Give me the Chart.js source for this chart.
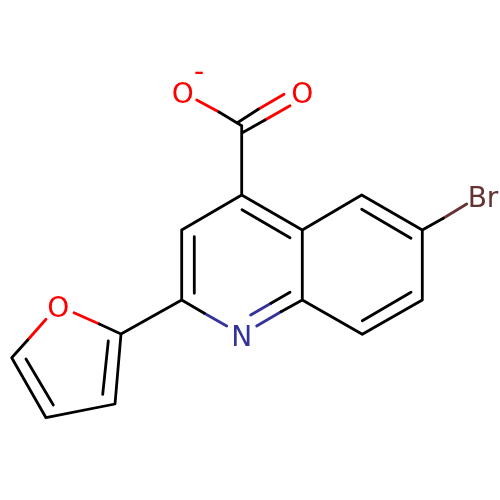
<!DOCTYPE html>
<html>
<head>
<meta charset="utf-8">
<title>Molecule</title>
<script src="https://cdn.jsdelivr.net/npm/chart.js@4/dist/chart.umd.min.js"></script>
<style>
    html, body { margin: 0; padding: 0; background: #fff; }
    canvas { display: block; }
</style>
</head>
<body>
<canvas id="mol" width="500" height="500"></canvas>
<script>
// bond pieces, one polyline per entry as x,y,x,y...
var blackBonds = [
    [219, 112, 241.7, 125.7, 241.7, 195],
    [237.3, 122.7, 258.3, 109.3],
    [242.3, 132.7, 265, 120],
    [241.7, 195, 181.7, 230, 181.7, 300, 204.3, 313.3],
    [194.3, 236.7, 194.3, 293.3],
    [241.7, 195, 302.3, 230, 302.3, 300, 281, 311.7],
    [242, 209.7, 290, 237.7],
    [271, 303.3, 290, 292.3],
    [302.3, 230, 361.7, 195, 422.3, 230, 422.3, 300, 362.3, 334.3, 302.3, 300],
    [361.7, 209.3, 411, 238.3],
    [411, 292.3, 362.3, 320.7],
    [422.3, 230, 443.3, 218.3],
    [181.7, 300, 121, 334, 115, 404, 46, 417.7, 11.7, 357.7, 27.7, 340],
    [121, 334, 99.3, 324],
    [102.7, 394.3, 108.3, 341],
    [26, 359, 53.3, 405]
];
var redBonds = [
    [196.7, 100, 219, 112],
    [258.3, 109.3, 284, 94.3],
    [265, 120, 290, 105.7],
    [99.3, 324, 74, 312.7],
    [27.7, 340, 46, 319.3]
];
var blueBonds = [
    [204.3, 313.3, 226.7, 326],
    [256.7, 326, 281, 311.7],
    [250.7, 315, 271, 303.3]
];
var brownBonds = [
    [443.3, 218.3, 466.7, 204]
];

var atomLabels = ["O", "-", "O", "O", "N", "Br"];
var atomX = [182.7, 199, 302.3, 58.3, 241.7, 483];
var atomY = [103, 81, 103, 317, 346, 207];
var atomColors = ["#ff0000", "#ff0000", "#ff0000", "#ff0000", "#333399", "#663333"];

function toPoints(lines) {
    var pts = [];
    lines.forEach(function (l) {
        for (var i = 0; i < l.length; i += 2) {
            pts.push({ x: l[i], y: l[i + 1] });
        }
        pts.push({ x: NaN, y: NaN }); // break the line
    });
    return pts;
}

function bondSet(lines, color) {
    return {
        data: toPoints(lines),
        showLine: true,
        spanGaps: false,
        borderColor: color,
        borderWidth: 2.8,
        borderCapStyle: 'round',
        borderJoinStyle: 'round',
        pointRadius: 0,
        tension: 0
    };
}

// text of the atoms goes on top of the bonds
var atomText = {
    id: 'atomText',
    afterDatasetsDraw: function (chart) {
        var ctx = chart.ctx;
        ctx.save();
        ctx.textAlign = 'center';
        ctx.textBaseline = 'alphabetic';
        ctx.font = '28px "DejaVu Sans"';
        atomLabels.forEach(function (t, i) {
            ctx.fillStyle = atomColors[i];
            ctx.fillText(t, chart.scales.x.getPixelForValue(atomX[i]), chart.scales.y.getPixelForValue(atomY[i]));
        });
        ctx.restore();
    }
};

new Chart(document.getElementById('mol').getContext('2d'), {
    type: 'scatter',
    data: {
        datasets: [
            bondSet(blackBonds, '#000000'),
            bondSet(redBonds, '#ff0000'),
            bondSet(blueBonds, '#333399'),
            bondSet(brownBonds, '#663333')
        ]
    },
    options: {
        responsive: false,
        animation: false,
        layout: { padding: 0 },
        plugins: { legend: { display: false }, tooltip: { enabled: false } },
        scales: {
            x: { type: 'linear', min: 0, max: 500, display: false },
            y: { type: 'linear', min: 0, max: 500, reverse: true, display: false }
        }
    },
    plugins: [atomText]
});
</script>
</body>
</html>
